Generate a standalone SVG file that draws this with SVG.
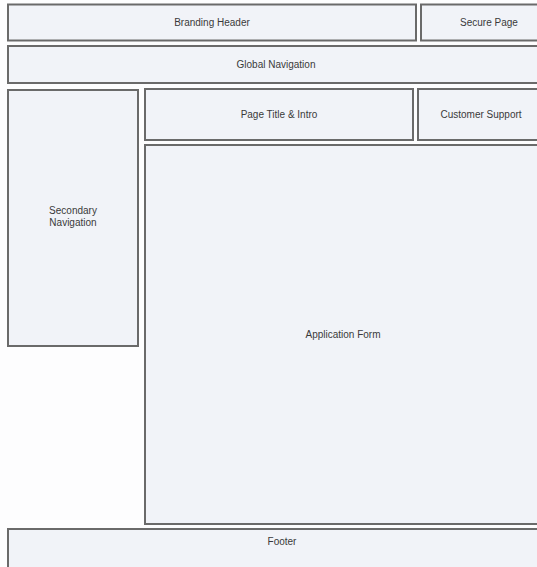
<svg xmlns="http://www.w3.org/2000/svg" width="537" height="567" viewBox="0 0 537 567">
<style>
.box{fill:#f1f3f8;stroke:#6a6a6a;stroke-width:2}
.lbl{font-family:"Liberation Sans",Arial,sans-serif;font-size:10px;fill:#3a3a3a;text-anchor:middle}
</style>
<rect x="0" y="0" width="537" height="567" fill="#fdfdfe"/>
<g id="branding-header"><rect class="box" x="8" y="4.5" width="408" height="36"/><text class="lbl" x="212" y="26">Branding Header</text></g>
<g id="secure-page"><rect class="box" x="421" y="4.5" width="125" height="36"/><text class="lbl" x="489" y="26">Secure Page</text></g>
<g id="global-navigation"><rect class="box" x="8" y="46" width="540" height="37"/><text class="lbl" x="276" y="68">Global Navigation</text></g>
<g id="secondary-navigation"><rect class="box" x="8" y="90" width="130" height="256"/><text class="lbl" x="73" y="214">Secondary</text><text class="lbl" x="73" y="226">Navigation</text></g>
<g id="page-title"><rect class="box" x="145" y="89" width="268" height="51"/><text class="lbl" x="279" y="118">Page Title &amp; Intro</text></g>
<g id="customer-support"><rect class="box" x="418" y="89" width="130" height="51"/><text class="lbl" x="481" y="118">Customer Support</text></g>
<g id="application-form"><rect class="box" x="145" y="145" width="403" height="379"/><text class="lbl" x="343" y="338">Application Form</text></g>
<g id="footer"><rect class="box" x="8" y="529" width="540" height="40"/><text class="lbl" x="282" y="545">Footer</text></g>
<g id="connectors"/>
</svg>
